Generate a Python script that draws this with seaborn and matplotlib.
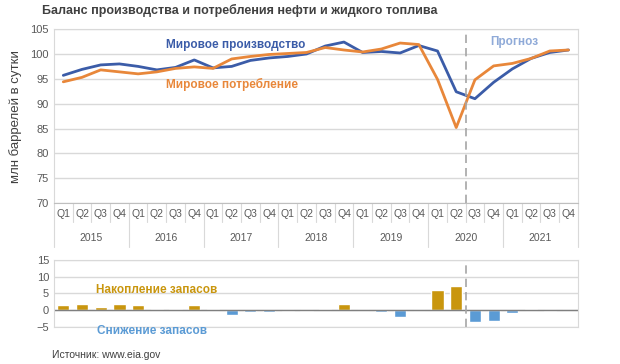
import numpy as np
import pandas as pd
import matplotlib.pyplot as plt
import seaborn as sns

# Data, quarters 2015 Q1 .. 2021 Q4
years = ['2015', '2016', '2017', '2018', '2019', '2020', '2021']
quarters = ['Q1', 'Q2', 'Q3', 'Q4']
production = [95.7, 96.9, 97.8, 98.0, 97.5, 96.8, 97.3, 98.8,
              97.2, 97.5, 98.7, 99.2, 99.5, 100.0, 101.6, 102.4,
              100.3, 100.5, 100.2, 101.7, 100.6, 92.4, 91.0, 94.3,
              97.0, 99.1, 100.3, 100.8]
consumption = [94.4, 95.3, 96.8, 96.4, 96.0, 96.4, 97.1, 97.4,
               97.1, 99.0, 99.5, 99.9, 100.1, 100.3, 101.3, 100.8,
               100.4, 101.0, 102.2, 101.9, 94.9, 85.2, 94.8, 97.6,
               98.1, 99.1, 100.6, 100.8]
stock_change = [1.6, 1.9, 1.0, 1.8, 1.6, 0.4, 0.2, 1.4,
                0.2, -1.4, -0.5, -0.5, -0.3, -0.2, 0.2, 1.8,
                0.0, -0.5, -2.0, 0.0, 5.9, 7.2, -3.6, -3.1,
                -0.8, 0.2, -0.2, 0.0]

n = len(production)
df = pd.DataFrame({'i': np.arange(n), 'prod': production, 'cons': consumption,
                   'stock': stock_change})
df['sign'] = np.where(df['stock'] >= 0, 'up', 'down')

sns.set_style('white')
plt.rcParams['font.family'] = ['Liberation Sans', 'DejaVu Sans']

BLUE = '#3b5ca8'
ORANGE = '#e8873a'
GOLD = '#c9960e'
LBLUE = '#5b9bd5'
GRID = '#d9d9d9'
TXT = '#595959'

fig = plt.figure(figsize=(6.2, 3.64), dpi=100)
ax = fig.add_axes([0.087, 0.442, 0.845, 0.478])
ax2 = fig.add_axes([0.087, 0.102, 0.845, 0.184])

# Top: lines
sns.lineplot(data=df, x='i', y='prod', ax=ax, color=BLUE, lw=2)
sns.lineplot(data=df, x='i', y='cons', ax=ax, color=ORANGE, lw=2)
ax.set_xlim(-0.5, n - 0.5)
ax.set_ylim(70, 105)
ax.set_yticks(range(70, 106, 5))
ax.grid(axis='y', color=GRID, lw=1)
ax.set_xticks([])
ax.set_xlabel('')
ax.set_ylabel('млн баррелей в сутки', fontsize=9.5, color='#404040', labelpad=6)
ax.tick_params(axis='y', labelsize=8, colors=TXT, length=0)
for s in ['top', 'right', 'left']:
    ax.spines[s].set_color(GRID)
ax.spines['bottom'].set_color('#bfbfbf')
ax.axvline(21.5, color='#a6a6a6', lw=1.2, ls=(0, (5, 3)))

# Quarter / year labels under the top chart
tr = ax.get_xaxis_transform()
for k in range(n):
    ax.text(k, -0.06, quarters[k % 4], transform=tr, ha='center', va='center',
            fontsize=7.5, color=TXT)
    if k % 4 != 0:
        ax.plot([k - 0.5, k - 0.5], [0, -0.11], transform=tr, color=GRID,
                lw=0.8, clip_on=False)
for j, y in enumerate(years):
    ax.text(j * 4 + 1.5, -0.2, y, transform=tr, ha='center', va='center',
            fontsize=7.5, color=TXT)
for j in range(len(years) + 1):
    ax.plot([j * 4 - 0.5, j * 4 - 0.5], [0, -0.25], transform=tr,
            color=GRID, lw=0.8, clip_on=False)

ax.text(9.2, 101.8, 'Мировое производство', color=BLUE, fontsize=8.5,
        fontweight='bold', ha='center', va='center')
ax.text(9.0, 93.9, 'Мировое потребление', color=ORANGE, fontsize=8.5,
        fontweight='bold', ha='center', va='center')
ax.text(24.1, 102.4, 'Прогноз', color='#8faad8', fontsize=8.5,
        fontweight='bold', ha='center', va='center')

# Bottom: stock change bars
sns.barplot(data=df, x='i', y='stock', hue='sign',
            palette={'up': GOLD, 'down': LBLUE}, dodge=False, width=0.65,
            saturation=1, legend=False, ax=ax2)
ax2.set_xlim(-0.5, n - 0.5)
ax2.set_ylim(-5, 15)
ax2.set_yticks([-5, 0, 5, 10, 15])
ax2.grid(axis='y', color=GRID, lw=1)
ax2.axhline(0, color='#7f7f7f', lw=1)
ax2.set_xticks([])
ax2.set_xlabel('')
ax2.set_ylabel('')
ax2.tick_params(axis='y', labelsize=8, colors=TXT, length=0)
for s in ['top', 'right', 'bottom', 'left']:
    ax2.spines[s].set_color(GRID)
ax2.axvline(21.5, color='#a6a6a6', lw=1.2, ls=(0, (5, 3)))
ax2.text(5.0, 5.9, 'Накопление запасов', color=GOLD, fontsize=8.5,
         fontweight='bold', ha='center', va='center')
ax2.text(4.75, -6.3, 'Снижение запасов', color=LBLUE, fontsize=8.5,
         fontweight='bold', ha='center', va='center')

fig.text(0.068, 0.972, 'Баланс производства и потребления нефти и жидкого топлива',
         fontsize=9, fontweight='bold', color='#404040', ha='left', va='center')
fig.text(0.084, 0.025, 'Источник: www.eia.gov', fontsize=7.5, color='#404040',
         ha='left', va='center')

fig.savefig('out.png', dpi=100)
